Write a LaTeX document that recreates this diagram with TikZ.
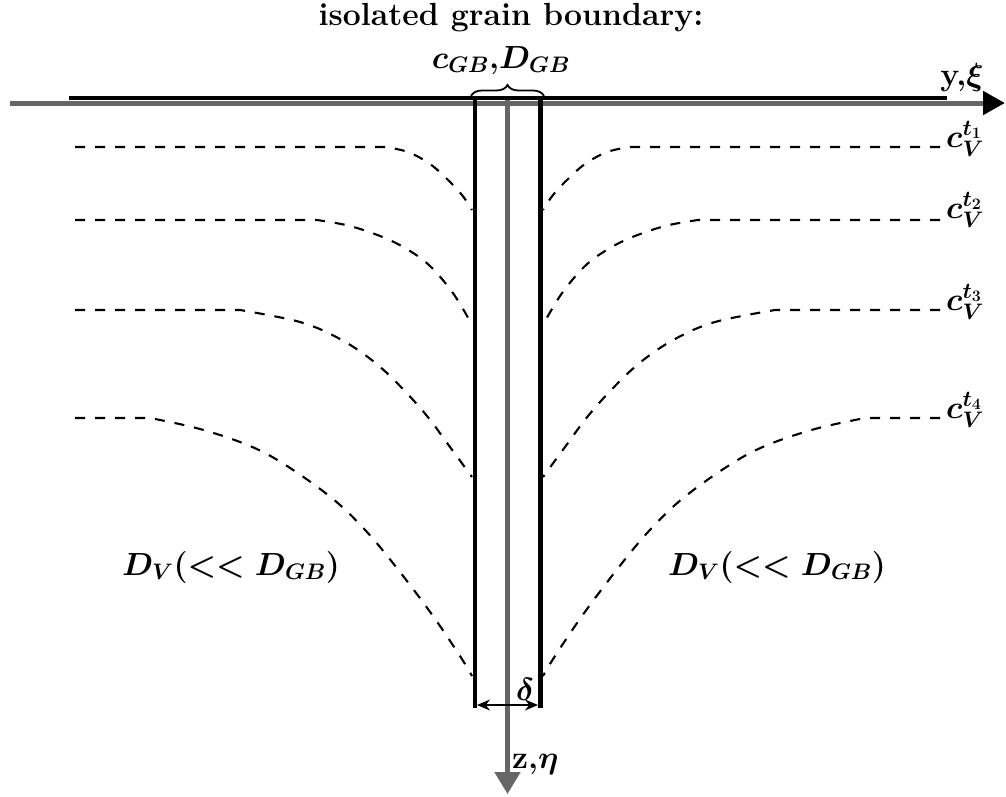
\RequirePackage{fix-cm}
\documentclass[tikz,border=0pt]{standalone}
\usetikzlibrary{arrows.meta,decorations.pathreplacing}
\definecolor{axisgray}{RGB}{102,102,102}
\tikzset{
  dashline/.style={black,line width=2.1pt,dash pattern=on 10pt off 10pt},
  gbline/.style={black,line width=4.5pt},
  axisline/.style={axisgray,line width=5pt},
  lbl/.style={inner sep=0pt,font=\fontsize{32}{38}\selectfont\bfseries\boldmath},
}
\begin{document}
\begin{tikzpicture}[x=1pt,y=-1pt]
\useasboundingbox (0,0) rectangle (1006,796);
% coordinates
\coordinate (hA) at (10,103);
\coordinate (hB) at (1005,103);
\coordinate (bA) at (69,98);
\coordinate (bB) at (947,98);
\coordinate (vA) at (507.5,100);
\coordinate (vB) at (507.5,794);
\coordinate (gL1) at (475,96);
\coordinate (gL2) at (475,708);
\coordinate (gR1) at (540.5,96);
\coordinate (gR2) at (540.5,708);
\coordinate (dL) at (477,705);
\coordinate (dR) at (538,705);
\coordinate (brL) at (471,96);
\coordinate (brR) at (544,96);
% axes
\draw[axisline,-{Triangle[length=22pt,width=23pt,color=black]}] (hA) -- (hB);
\draw[black,line width=4pt] (bA) -- (bB);
\draw[axisline,-{Triangle[length=22pt,width=25pt]}] (vA) -- (vB);
% grain boundary
\draw[gbline] (gL1) -- (gL2);
\draw[gbline] (gR1) -- (gR2);
% brace
\draw[line width=1.8pt,decorate,decoration={brace,amplitude=11pt}] (brL) -- (brR);
% delta arrow
\draw[line width=1.8pt,{Stealth[length=13pt,width=11pt]}-{Stealth[length=13pt,width=11pt]}] (dL) -- (dR);
% dashed profiles, left
\draw[dashline] (75,147) -- plot[smooth,tension=0.6] coordinates {(385,147) (408,152) (430,164) (447,179) (462,195) (472,210)};
\draw[dashline] (75,220) -- plot[smooth,tension=0.6] coordinates {(317,220) (350,226) (385,238) (410,251) (430,266) (450,289) (463,309) (472,325)};
\draw[dashline] (75,310) -- plot[smooth,tension=0.6] coordinates {(240,310) (300,322) (340,339) (373,361) (400,386) (427,416) (450,447) (472,477)};
\draw[dashline] (75,418) -- plot[smooth,tension=0.6] coordinates {(150,418) (200,429) (250,446) (287,466) (333,499) (367,532) (400,572) (433,616) (460,656) (472,676)};
% dashed profiles, right (mirror)
\begin{scope}[xshift=1015pt,xscale=-1]
\draw[dashline] (75,147) -- plot[smooth,tension=0.6] coordinates {(385,147) (408,152) (430,164) (447,179) (462,195) (472,210)};
\draw[dashline] (75,220) -- plot[smooth,tension=0.6] coordinates {(317,220) (350,226) (385,238) (410,251) (430,266) (450,289) (463,309) (472,325)};
\draw[dashline] (75,310) -- plot[smooth,tension=0.6] coordinates {(240,310) (300,322) (340,339) (373,361) (400,386) (427,416) (450,447) (472,477)};
\draw[dashline] (75,418) -- plot[smooth,tension=0.6] coordinates {(150,418) (200,429) (250,446) (287,466) (333,499) (367,532) (400,572) (433,616) (460,656) (472,676)};
\end{scope}
% labels
\node[lbl,anchor=base] (title) at (511,25) {isolated grain boundary:};
\node[lbl,anchor=base] (gb) at (501,68) {$c_{GB}$,$D_{GB}$};
\node[lbl,anchor=base] (yxi) at (962,85) {y,$\xi$};
\node[lbl,anchor=base west] (zeta) at (512,768) {z,$\eta$};
\node[lbl,anchor=base] (delta) at (525,700) {$\delta$};
\node[lbl,anchor=base west] (c1) at (946,147) {$c_V^{t_1}$};
\node[lbl,anchor=base west] (c2) at (946,218) {$c_V^{t_2}$};
\node[lbl,anchor=base west] (c3) at (946,310) {$c_V^{t_3}$};
\node[lbl,anchor=base west] (c4) at (946,418) {$c_V^{t_4}$};
\node[lbl,anchor=base] (dvl) at (231,575) {$D_V(<<D_{GB})$};
\node[lbl,anchor=base] (dvr) at (777,575) {$D_V(<<D_{GB})$};
\end{tikzpicture}
\end{document}
